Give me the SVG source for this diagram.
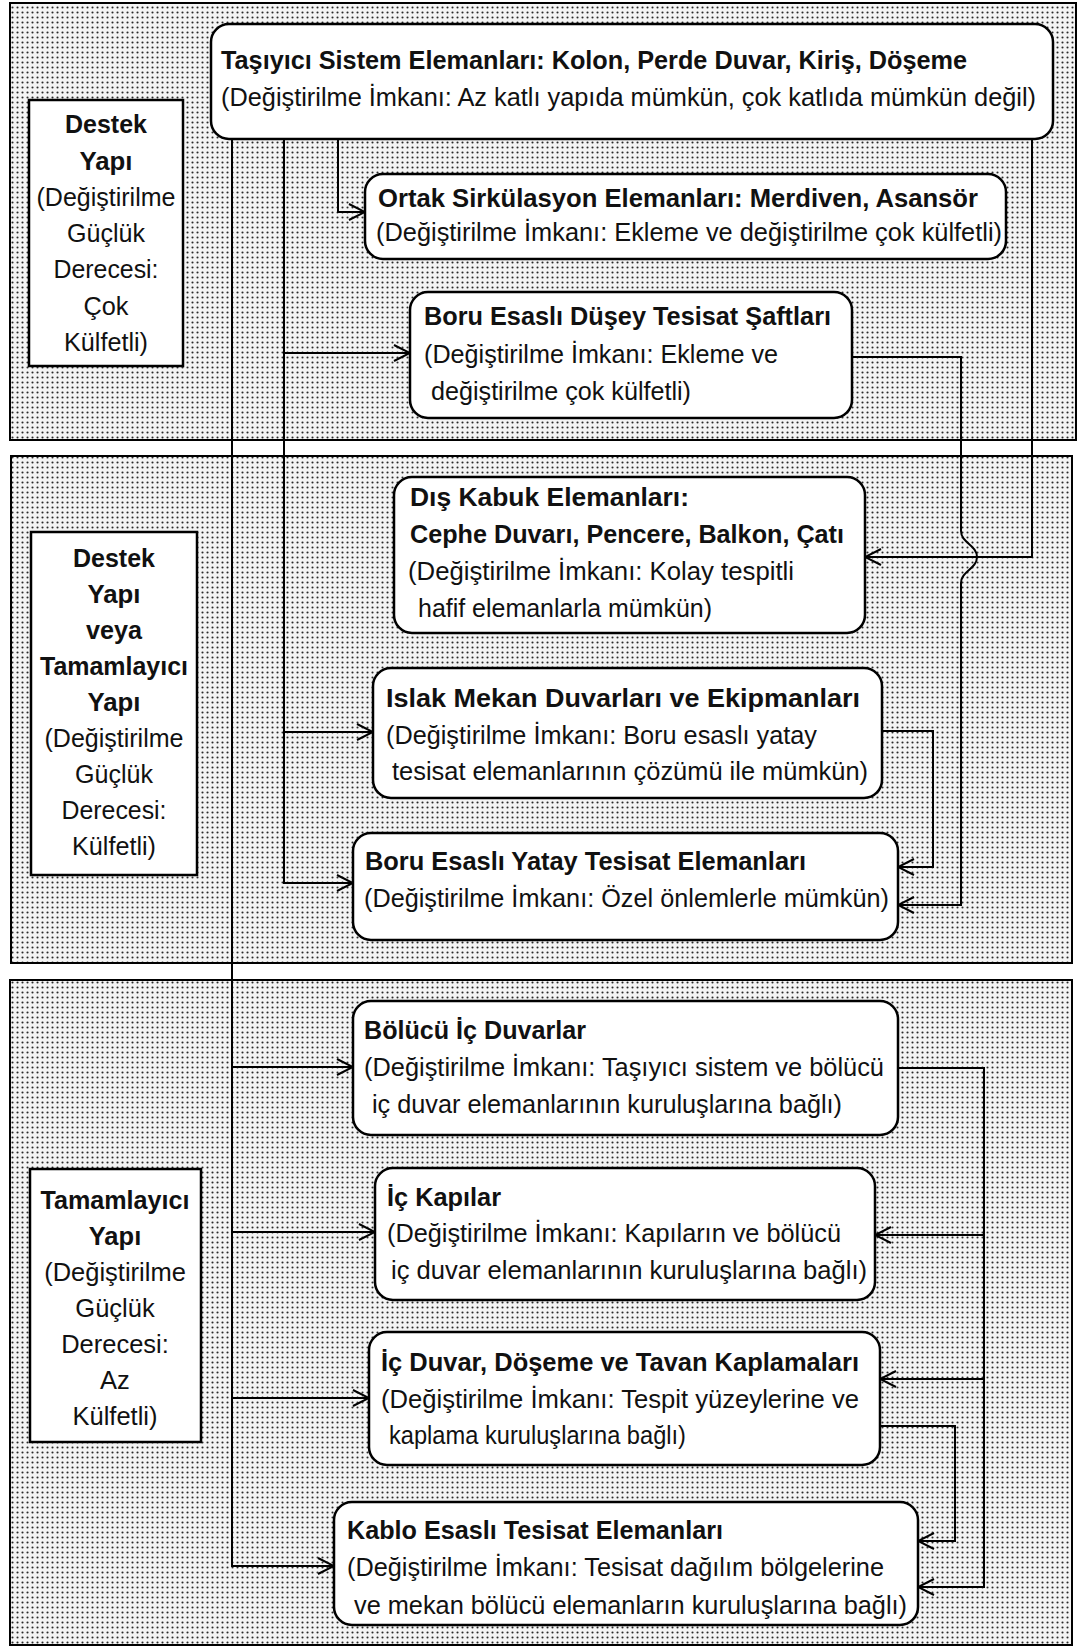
<svg xmlns="http://www.w3.org/2000/svg" width="1087" height="1648" viewBox="0 0 1087 1648">
<defs>
<pattern id="dots" width="5" height="5" patternUnits="userSpaceOnUse">
<rect width="5" height="5" fill="#f4f4f4"/>
<circle cx="2.5" cy="2.5" r="1.05" fill="#2a2a2a"/>
</pattern>
<marker id="arr" viewBox="0 0 18 18" refX="17" refY="9" markerWidth="18" markerHeight="18" markerUnits="userSpaceOnUse" orient="auto">
<path d="M1,1 L17,9 L1,17" fill="none" stroke="#000" stroke-width="2"/>
</marker>
<style>
.panel{fill:url(#dots);stroke:#000;stroke-width:2}
.node{fill:#fff;stroke:#000;stroke-width:2.5}
.lbl{fill:#fff;stroke:#000;stroke-width:2.5}
.con{fill:none;stroke:#000;stroke-width:2}
.ar{marker-end:url(#arr)}
text{fill:#111}
.b{font-family:"Liberation Sans",Arial,sans-serif;font-size:26.5px;font-weight:bold}
.r{font-family:"Liberation Sans",Arial,sans-serif;font-size:26.5px}
.b3{font-family:"Liberation Sans",Arial,sans-serif;font-size:25.5px;font-weight:bold}
.r3{font-family:"Liberation Sans",Arial,sans-serif;font-size:25.5px}
.c{text-anchor:middle}
</style>
</defs>
<rect width="1087" height="1648" fill="#fff"/>
<g id="panels">
<rect class="panel" x="10" y="3" width="1066" height="437"/>
<rect class="panel" x="11" y="456" width="1061" height="507"/>
<rect class="panel" x="10" y="980" width="1062" height="665"/>
</g>
<g id="connectors">
<path class="con ar" d="M232,139 V1566 H334"/>
<path class="con ar" d="M232,1067 H353"/>
<path class="con ar" d="M232,1232 H375"/>
<path class="con ar" d="M232,1398 H369"/>
<path class="con ar" d="M284,139 V883 H353"/>
<path class="con ar" d="M284,353 H410"/>
<path class="con ar" d="M284,732 H373"/>
<path class="con ar" d="M338,139 V212 H365"/>
<path class="con ar" d="M852,357 H961 V531 C961,543 977,545 977,557 C977,569 961,571 961,583 V905 H898"/>
<path class="con ar" d="M1032,139 V557 H865"/>
<path class="con ar" d="M882,731 H933 V867 H898"/>
<path class="con ar" d="M898,1068 H984 V1587 H918"/>
<path class="con ar" d="M984,1235 H875"/>
<path class="con ar" d="M984,1379 H880"/>
<path class="con ar" d="M880,1426 H955 V1541 H918"/>
</g>
<g id="label-destek">
<rect class="lbl" x="29" y="100" width="154" height="266"/>
<text class="b c" x="106" y="133" textLength="82" lengthAdjust="spacingAndGlyphs">Destek</text>
<text class="b c" x="106" y="170" textLength="53" lengthAdjust="spacingAndGlyphs">Yapı</text>
<text class="r c" x="106" y="206" textLength="139" lengthAdjust="spacingAndGlyphs">(Değiştirilme</text>
<text class="r c" x="106" y="242" textLength="78" lengthAdjust="spacingAndGlyphs">Güçlük</text>
<text class="r c" x="106" y="278" textLength="105" lengthAdjust="spacingAndGlyphs">Derecesi:</text>
<text class="r c" x="106" y="315" textLength="45" lengthAdjust="spacingAndGlyphs">Çok</text>
<text class="r c" x="106" y="351" textLength="84" lengthAdjust="spacingAndGlyphs">Külfetli)</text>
</g>
<g id="label-destek-veya">
<rect class="lbl" x="31" y="532" width="166" height="343"/>
<text class="b c" x="114" y="567" textLength="82" lengthAdjust="spacingAndGlyphs">Destek</text>
<text class="b c" x="114" y="603" textLength="53" lengthAdjust="spacingAndGlyphs">Yapı</text>
<text class="b c" x="114" y="639" textLength="56" lengthAdjust="spacingAndGlyphs">veya</text>
<text class="b c" x="114" y="675" textLength="148" lengthAdjust="spacingAndGlyphs">Tamamlayıcı</text>
<text class="b c" x="114" y="711" textLength="53" lengthAdjust="spacingAndGlyphs">Yapı</text>
<text class="r c" x="114" y="747" textLength="139" lengthAdjust="spacingAndGlyphs">(Değiştirilme</text>
<text class="r c" x="114" y="783" textLength="78" lengthAdjust="spacingAndGlyphs">Güçlük</text>
<text class="r c" x="114" y="819" textLength="105" lengthAdjust="spacingAndGlyphs">Derecesi:</text>
<text class="r c" x="114" y="855" textLength="84" lengthAdjust="spacingAndGlyphs">Külfetli)</text>
</g>
<g id="label-tamamlayici">
<rect class="lbl" x="30" y="1169" width="171" height="273"/>
<text class="b3 c" x="115" y="1209" textLength="149" lengthAdjust="spacingAndGlyphs">Tamamlayıcı</text>
<text class="b3 c" x="115" y="1245">Yapı</text>
<text class="r3 c" x="115" y="1281">(Değiştirilme</text>
<text class="r3 c" x="115" y="1317">Güçlük</text>
<text class="r3 c" x="115" y="1353">Derecesi:</text>
<text class="r3 c" x="115" y="1389">Az</text>
<text class="r3 c" x="115" y="1425">Külfetli)</text>
</g>
<g id="n-tasiyici">
<rect class="node" x="211" y="24" width="842" height="115" rx="18"/>
<text class="b" x="221" y="69" textLength="746" lengthAdjust="spacingAndGlyphs">Taşıyıcı Sistem Elemanları: Kolon, Perde Duvar, Kiriş, Döşeme</text>
<text class="r" x="221" y="106" textLength="815" lengthAdjust="spacingAndGlyphs">(Değiştirilme İmkanı: Az katlı yapıda mümkün, çok katlıda mümkün değil)</text>
</g>
<g id="n-ortak">
<rect class="node" x="365" y="174" width="641" height="85" rx="18"/>
<text class="b" x="378" y="207" textLength="600" lengthAdjust="spacingAndGlyphs">Ortak Sirkülasyon Elemanları: Merdiven, Asansör</text>
<text class="r" x="376" y="241" textLength="626" lengthAdjust="spacingAndGlyphs">(Değiştirilme İmkanı: Ekleme ve değiştirilme çok külfetli)</text>
</g>
<g id="n-boru-dusey">
<rect class="node" x="410" y="292" width="442" height="126" rx="18"/>
<text class="b" x="424" y="325" textLength="407" lengthAdjust="spacingAndGlyphs">Boru Esaslı Düşey Tesisat Şaftları</text>
<text class="r" x="424" y="363" textLength="354" lengthAdjust="spacingAndGlyphs">(Değiştirilme İmkanı: Ekleme ve</text>
<text class="r" x="431" y="400" textLength="260" lengthAdjust="spacingAndGlyphs">değiştirilme çok külfetli)</text>
</g>
<g id="n-dis-kabuk">
<rect class="node" x="394" y="477" width="471" height="156" rx="18"/>
<text class="b" x="410" y="506" textLength="279" lengthAdjust="spacingAndGlyphs">Dış Kabuk Elemanları:</text>
<text class="b" x="410" y="543" textLength="434" lengthAdjust="spacingAndGlyphs">Cephe Duvarı, Pencere, Balkon, Çatı</text>
<text class="r" x="408" y="580" textLength="386" lengthAdjust="spacingAndGlyphs">(Değiştirilme İmkanı: Kolay tespitli</text>
<text class="r" x="418" y="617" textLength="294" lengthAdjust="spacingAndGlyphs">hafif elemanlarla mümkün)</text>
</g>
<g id="n-islak">
<rect class="node" x="373" y="668" width="509" height="130" rx="18"/>
<text class="b" x="386" y="707" textLength="474" lengthAdjust="spacingAndGlyphs">Islak Mekan Duvarları ve Ekipmanları</text>
<text class="r" x="386" y="744" textLength="431" lengthAdjust="spacingAndGlyphs">(Değiştirilme İmkanı: Boru esaslı yatay</text>
<text class="r" x="392" y="780" textLength="476" lengthAdjust="spacingAndGlyphs">tesisat elemanlarının çözümü ile mümkün)</text>
</g>
<g id="n-boru-yatay">
<rect class="node" x="353" y="833" width="545" height="107" rx="18"/>
<text class="b" x="365" y="870" textLength="441" lengthAdjust="spacingAndGlyphs">Boru Esaslı Yatay Tesisat Elemanları</text>
<text class="r" x="364" y="907" textLength="525" lengthAdjust="spacingAndGlyphs">(Değiştirilme İmkanı: Özel önlemlerle mümkün)</text>
</g>
<g id="n-bolucu">
<rect class="node" x="353" y="1001" width="545" height="134" rx="18"/>
<text class="b3" x="364" y="1039" textLength="222" lengthAdjust="spacingAndGlyphs">Bölücü İç Duvarlar</text>
<text class="r3" x="364" y="1076" textLength="520" lengthAdjust="spacingAndGlyphs">(Değiştirilme İmkanı: Taşıyıcı sistem ve bölücü</text>
<text class="r3" x="372" y="1113" textLength="470" lengthAdjust="spacingAndGlyphs">iç duvar elemanlarının kuruluşlarına bağlı)</text>
</g>
<g id="n-ic-kapilar">
<rect class="node" x="375" y="1168" width="500" height="132" rx="18"/>
<text class="b3" x="387" y="1206" textLength="114" lengthAdjust="spacingAndGlyphs">İç Kapılar</text>
<text class="r3" x="387" y="1242" textLength="454" lengthAdjust="spacingAndGlyphs">(Değiştirilme İmkanı: Kapıların ve bölücü</text>
<text class="r3" x="391" y="1279" textLength="476" lengthAdjust="spacingAndGlyphs">iç duvar elemanlarının kuruluşlarına bağlı)</text>
</g>
<g id="n-ic-duvar">
<rect class="node" x="369" y="1332" width="511" height="133" rx="18"/>
<text class="b3" x="381" y="1371" textLength="478" lengthAdjust="spacingAndGlyphs">İç Duvar, Döşeme ve Tavan Kaplamaları</text>
<text class="r3" x="381" y="1408" textLength="478" lengthAdjust="spacingAndGlyphs">(Değiştirilme İmkanı: Tespit yüzeylerine ve</text>
<text class="r3" x="389" y="1444" textLength="297" lengthAdjust="spacingAndGlyphs">kaplama kuruluşlarına bağlı)</text>
</g>
<g id="n-kablo">
<rect class="node" x="334" y="1502" width="584" height="123" rx="18"/>
<text class="b3" x="347" y="1539" textLength="376" lengthAdjust="spacingAndGlyphs">Kablo Esaslı Tesisat Elemanları</text>
<text class="r3" x="347" y="1576" textLength="537" lengthAdjust="spacingAndGlyphs">(Değiştirilme İmkanı: Tesisat dağılım bölgelerine</text>
<text class="r3" x="354" y="1614" textLength="553" lengthAdjust="spacingAndGlyphs">ve mekan bölücü elemanların kuruluşlarına bağlı)</text>
</g>
</svg>
